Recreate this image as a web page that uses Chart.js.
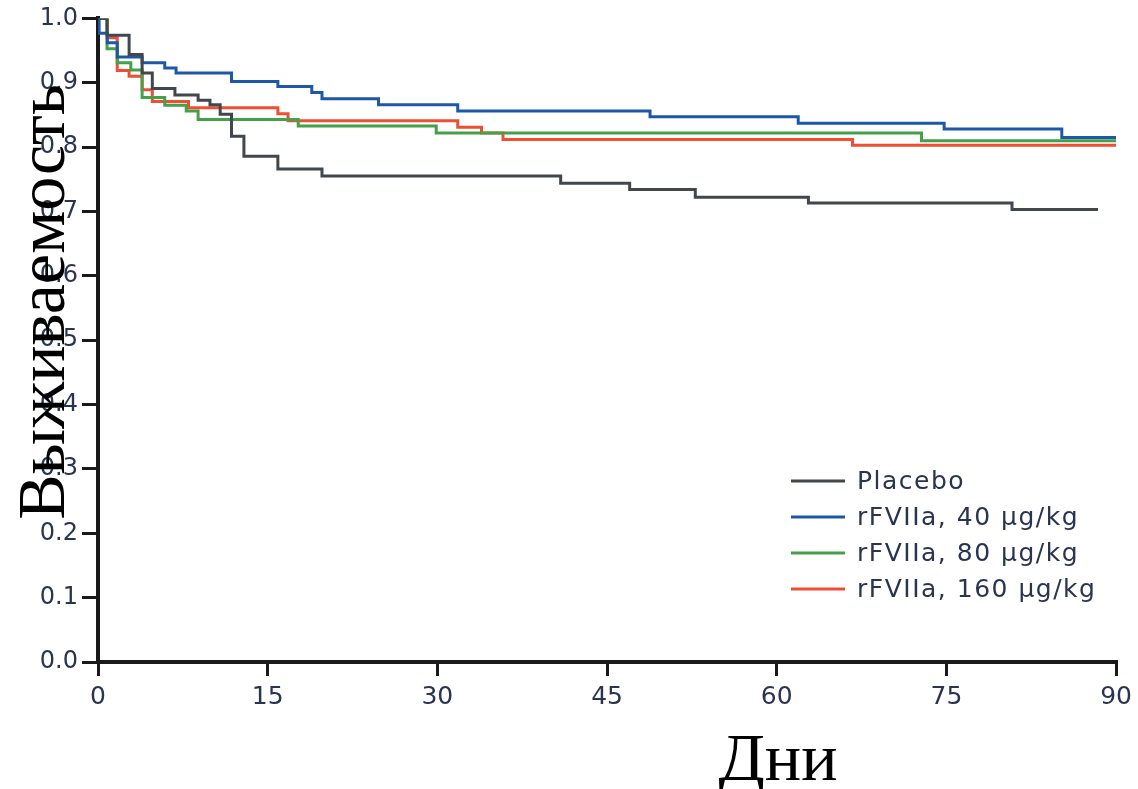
<!DOCTYPE html>
<html>
<head>
<meta charset="utf-8">
<script src="https://cdn.jsdelivr.net/npm/chart.js@4.4.0/dist/chart.umd.min.js"></script>
<style>
  html, body { margin: 0; padding: 0; background: #fff; }
  #wrap { width: 1138px; height: 789px; }
</style>
</head>
<body>
<div id="wrap"><canvas id="km" width="1138" height="789"></canvas></div>
<script>
// tick labels
const dayTicks = [0, 15, 30, 45, 60, 75, 90];
const survTicks = [0, 0.1, 0.2, 0.3, 0.4, 0.5, 0.6, 0.7, 0.8, 0.9, 1.0];

const xTitle = 'Дни';
const yTitle = 'Выживаемость';

// Kaplan-Meier steps (day, survival after the drop)
const placeboDays = [0, 0.8, 2.75, 3.9, 4.8, 6.8, 8.85, 9.9, 10.8, 11.8, 12.9, 15.9, 19.8, 40.9, 47, 52.8, 62.8, 80.8, 88.4];
const placeboSurv = [1.0, 0.974, 0.944, 0.915, 0.891, 0.881, 0.873, 0.866, 0.851, 0.817, 0.786, 0.766, 0.755, 0.744, 0.734, 0.722, 0.713, 0.703, 0.703];

const dose40Days = [0, 0.1, 0.82, 1.7, 3.9, 5.9, 6.9, 11.8, 15.9, 18.9, 19.8, 24.8, 31.8, 48.8, 61.9, 74.8, 85.2, 90];
const dose40Surv = [1.0, 0.977, 0.962, 0.940, 0.931, 0.923, 0.915, 0.902, 0.894, 0.885, 0.875, 0.866, 0.856, 0.847, 0.837, 0.828, 0.815, 0.815];

const dose80Days = [0, 0.8, 1.7, 2.9, 3.9, 5.9, 7.8, 8.85, 17.7, 29.9, 72.8, 90];
const dose80Surv = [1.0, 0.953, 0.931, 0.920, 0.877, 0.865, 0.856, 0.843, 0.833, 0.822, 0.810, 0.810];

const dose160Days = [0, 0.82, 1.7, 2.75, 3.9, 4.8, 8.0, 15.9, 16.8, 31.8, 33.9, 35.8, 66.7, 90];
const dose160Surv = [1.0, 0.970, 0.919, 0.910, 0.889, 0.871, 0.861, 0.852, 0.841, 0.831, 0.822, 0.812, 0.803, 0.803];

const seriesLabels = ['Placebo', 'rFVIIa, 40 μg/kg', 'rFVIIa, 80 μg/kg', 'rFVIIa, 160 μg/kg'];
const seriesColors = ['#41474d', '#1d58a8', '#45a04a', '#ef4e34'];

function toPoints(days, surv) {
  return days.map((d, i) => ({ x: d, y: surv[i] }));
}

const allSeries = [
  toPoints(placeboDays, placeboSurv),
  toPoints(dose40Days, dose40Surv),
  toPoints(dose80Days, dose80Surv),
  toPoints(dose160Days, dose160Surv)
];

// legend inside the plot, lower right
const legendBox = {
  id: 'legendBox',
  afterDatasetsDraw(chart) {
    const ctx = chart.ctx;
    ctx.save();
    ctx.font = '25px "DejaVu Sans"';
    ctx.letterSpacing = '1.5px';
    ctx.textBaseline = 'middle';
    chart.data.datasets.forEach((ds, i) => {
      const y = 481 + i * 36;
      ctx.strokeStyle = ds.borderColor;
      ctx.lineWidth = 3;
      ctx.beginPath();
      ctx.moveTo(791, y);
      ctx.lineTo(845, y);
      ctx.stroke();
      ctx.fillStyle = '#2a3452';
      ctx.fillText(ds.label, 857, y + 1);
    });
    ctx.restore();
  }
};

// big serif axis titles, drawn over the tick labels like in the original
const axisTitles = {
  id: 'axisTitles',
  afterDraw(chart) {
    const ctx = chart.ctx;
    ctx.save();
    ctx.fillStyle = '#000';
    ctx.font = '68px "Liberation Serif"';
    ctx.textAlign = 'center';
    ctx.textBaseline = 'alphabetic';
    ctx.fillText(xTitle, 778, 780);
    ctx.translate(64, 302);
    ctx.rotate(-Math.PI / 2);
    ctx.fillText(yTitle, 0, 0);
    ctx.restore();
  }
};

const ctx = document.getElementById('km').getContext('2d');

new Chart(ctx, {
  type: 'line',
  data: {
    datasets: allSeries.map((pts, i) => ({
      label: seriesLabels[i],
      data: pts,
      borderColor: seriesColors[i],
      backgroundColor: seriesColors[i],
      borderWidth: 3,
      pointRadius: 0,
      stepped: true,
      fill: false
    }))
  },
  options: {
    responsive: false,
    animation: false,
    devicePixelRatio: 1,
    layout: { padding: { top: 17, right: 20, left: 0, bottom: 0 } },
    plugins: {
      legend: { display: false },
      tooltip: { enabled: false }
    },
    scales: {
      x: {
        type: 'linear',
        min: 0,
        max: 90,
        afterBuildTicks: s => { s.ticks = dayTicks.map(v => ({ value: v })); },
        afterFit: s => { s.height = 127; },
        border: { display: true, color: '#1a1a1a', width: 4 },
        grid: { drawOnChartArea: false, lineWidth: 3, tickLength: 14, tickWidth: 3, tickColor: '#1a1a1a' },
        ticks: {
          color: '#2a3452',
          font: { family: 'DejaVu Sans', size: 25 },
          padding: 6,
          maxRotation: 0
        }
      },
      y: {
        min: 0,
        max: 1,
        afterBuildTicks: s => { s.ticks = survTicks.map(v => ({ value: v })); },
        afterFit: s => { s.width = 98; },
        border: { display: true, color: '#1a1a1a', width: 4 },
        grid: { drawOnChartArea: false, lineWidth: 3, tickLength: 16, tickWidth: 3, tickColor: '#1a1a1a' },
        ticks: {
          color: '#2a3452',
          font: { family: 'DejaVu Sans', size: 24 },
          padding: 4,
          callback: v => v.toFixed(1)
        }
      }
    }
  },
  plugins: [legendBox, axisTitles]
});
</script>
</body>
</html>
